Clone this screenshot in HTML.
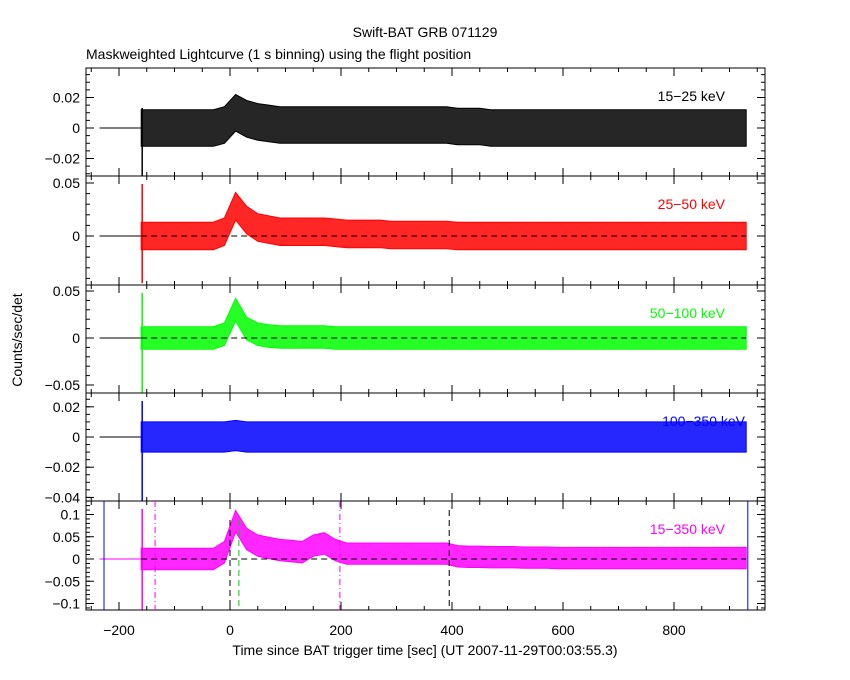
<!DOCTYPE html>
<html><head><meta charset="utf-8"><style>
body{margin:0;background:#fff;}
svg{display:block;font-family:"Liberation Sans",sans-serif;}
</style></head><body>
<svg id="c" width="850" height="680"></svg>
<script>
// ---- data ----
const times=[-160,-150,-130,-110,-90,-70,-50,-30,-10,10,30,50,70,90,110,130,150,170,190,210,230,250,270,290,310,330,350,370,390,410,430,450,470,490,510,530,550,570,590,610,630,650,670,690,710,730,750,770,790,810,830,850,870,890,910,930];
const band1=[0,0,0,0,0,0,0,0,0.002,0.010,0.006,0.004,0.003,0.002,0.002,0.002,0.002,0.002,0.002,0.002,0.002,0.002,0.002,0.002,0.002,0.002,0.002,0.002,0.002,0.001,0.001,0.001,0,0,0,0,0,0,0,0,0,0,0,0,0,0,0,0,0,0,0,0,0,0,0,0];
const band2=[0,0,0,0,0,0,0,0,0.004,0.028,0.015,0.008,0.006,0.004,0.004,0.004,0.004,0.004,0.003,0.002,0.002,0.002,0.002,0.001,0.001,0.001,0.001,0.001,0.001,0,0,0,0,0,0,0,0,0,0,0,0,0,0,0,0,0,0,0,0,0,0,0,0,0,0,0];
const band3=[0,0,0,0,0,0,0,0,0.004,0.030,0.010,0.004,0.002,0.001,0.001,0.001,0.001,0.001,0,0,0,0,0,0,0,0,0,0,0,0,0,0,0,0,0,0,0,0,0,0,0,0,0,0,0,0,0,0,0,0,0,0,0,0,0,0];
const band4=[0,0,0,0,0,0,0,0,0,0.001,0,0,0,0,0,0,0,0,0,0,0,0,0,0,0,0,0,0,0,0,0,0,0,0,0,0,0,0,0,0,0,0,0,0,0,0,0,0,0,0,0,0,0,0,0,0];
const band5=[0,0,0,0,0,0,0,0,0.015,0.085,0.045,0.030,0.025,0.020,0.018,0.015,0.030,0.035,0.020,0.012,0.012,0.012,0.012,0.012,0.012,0.012,0.012,0.012,0.012,0.006,0.005,0.005,0.004,0.004,0.004,0.003,0.003,0.003,0.002,0.002,0.002,0.002,0.002,0.002,0.002,0.002,0.002,0.002,0.002,0.002,0.002,0.002,0.002,0.002,0.002,0.002];
const sigmas=[0.012,0.013,0.012,0.010,0.024];
const bandLabels=["15\u221225 keV","25\u221250 keV","50\u2212100 keV","100\u2212350 keV","15\u2212350 keV"];
const xTicks=[-200,0,200,400,600,800];
const yTicks1=[0.02,0,-0.02], yTicks2=[0.05,0], yTicks3=[0.05,0,-0.05], yTicks4=[0.02,0,-0.02,-0.04], yTicks5=[0.1,0.05,0,-0.05,-0.1];
// ---- layout ----
const NS="http://www.w3.org/2000/svg", svg=document.getElementById('c');
const L=86,R=765;
const xs=t=>230+(t)*0.555;
const panels=[
 {top:68,bot:176,y0:128,k:1525,col:"#000",ticks:yTicks1,data:band1,dash:false,minor:0.005},
 {top:176,bot:285,y0:236,k:1060,col:"#f00",ticks:yTicks2,data:band2,dash:true,minor:0.01},
 {top:285,bot:393,y0:338,k:940,col:"#0f0",ticks:yTicks3,data:band3,dash:true,minor:0.01},
 {top:393,bot:501,y0:437,k:1510,col:"#00f",ticks:yTicks4,data:band4,dash:false,minor:0.005},
 {top:501,bot:610,y0:559,k:445,col:"#f0f",ticks:yTicks5,data:band5,dash:true,minor:0.01}];
function el(tag,attrs,parent){const e=document.createElementNS(NS,tag);for(const a in attrs)e.setAttribute(a,attrs[a]);(parent||svg).appendChild(e);return e;}
function txt(x,y,s,anchor,fill,size){const t=el('text',{x:x,y:y,'text-anchor':anchor||'middle',fill:fill||'#000','font-size':size||14});t.textContent=s;return t;}
let t=txt(425,37,"Swift-BAT GRB 071129");

t=txt(86,59,"Maskweighted Lightcurve (1 s binning) using the flight position",'start');

t=txt(425,655,"Time since BAT trigger time [sec] (UT 2007-11-29T00:03:55.3)");

t=txt(0,0,"Counts/sec/det");t.setAttribute('transform','translate(22,340) rotate(-90)');

panels.forEach((p,pi)=>{
 const g=el('g',{});
 
 const ys=v=>p.y0-v*p.k;
 el('line',{x1:xs(-235),x2:xs(times[0]),y1:p.y0,y2:p.y0,stroke:pi==4?p.col:'#000','stroke-width':1},g);
 let up=[],dn=[];
 const s=sigmas[pi];
 times.forEach((tt,i)=>{const x=xs(tt),v=p.data[i];up.push([x,ys(v+s)]);dn.unshift([x,ys(v-s)]);});
 const poly=el('polygon',{points:up.concat(dn).map(q=>q.map(n=>n.toFixed(1)).join(',')).join(' '),fill:p.col,'fill-opacity':0.85,stroke:p.col,'stroke-width':1},g);
 
 el('line',{x1:xs(times[0])+1,x2:xs(times[0])+1,y1:p.top+(pi==0?40:8),y2:p.bot-(pi==1?2:0),stroke:p.col,'stroke-width':1.5},g);
 if(p.dash) el('line',{x1:xs(times[0]),x2:xs(times[times.length-1]),y1:p.y0,y2:p.y0,stroke:'#000','stroke-dasharray':'6,4'},g);
 el('rect',{x:L,y:p.top,width:R-L,height:p.bot-p.top,fill:'none',stroke:'#000'},g);
 p.ticks.forEach(v=>{const y=ys(v);el('line',{x1:L,x2:L+8,y1:y,y2:y,stroke:'#000'},g);el('line',{x1:R,x2:R-8,y1:y,y2:y,stroke:'#000'},g);
  const tl=txt(L-6,y+5,v===0?"0":(v<0?"\u2212"+(-v):String(v)),'end');});
 for(let v=-0.2;v<=0.2;v+=p.minor){const y=ys(v);if(y>p.top&&y<p.bot){el('line',{x1:L,x2:L+4,y1:y,y2:y,stroke:'#000'},g);el('line',{x1:R,x2:R-4,y1:y,y2:y,stroke:'#000'},g);}}
 for(let v=-250;v<=950;v+=50){const x=xs(v);if(x<L||x>R)continue;const len=v%200===0?8:4;
  el('line',{x1:x,x2:x,y1:p.bot,y2:p.bot-len,stroke:'#000'},g);el('line',{x1:x,x2:x,y1:p.top,y2:p.top+len,stroke:'#000'},g);}
 const lb=txt(pi==3?745:725,p.top+33,bandLabels[pi],'end',p.col);
 
});
xTicks.forEach(v=>{const l=txt(xs(v),635,v<0?"\u2212"+(-v):String(v));});
const mk=[[-227,'#00f',null,501,610],[933,'#00f',null,501,610],[-135,'#f0f','6,3,1,3',501,610],[198,'#f0f','6,3,1,3',501,610],[0,'#000','6,4',520,610],[395,'#000','6,4',510,610],[16,'#0c0','6,4',520,610]];
mk.forEach(m=>{const l=el('line',{x1:xs(m[0]),x2:xs(m[0]),y1:m[3],y2:m[4],stroke:m[1],'stroke-width':1});if(m[2])l.setAttribute('stroke-dasharray',m[2]);
 });
</script>
</body></html>
